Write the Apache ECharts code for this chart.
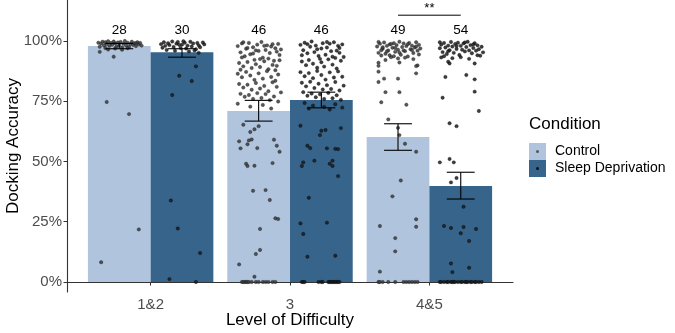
<!DOCTYPE html>
<html>
<head>
<meta charset="utf-8">
<script src="https://cdn.jsdelivr.net/npm/echarts@6/dist/echarts.min.js"></script>
<style>
  html, body { margin: 0; padding: 0; background: #fff; }
  #main { width: 675px; height: 333px; }
</style>
</head>
<body>
<div id="main"></div>
<script>
const categories = ['1&2', '3', '4&5'];
const yTicks = [0, 25, 50, 75, 100];

const ctrlMean = [97.8, 70.9, 60.1];
const ctrlLow = [96.7, 66.7, 54.6];
const ctrlHigh = [98.9, 75.3, 65.6];
const sdMean = [95.2, 75.4, 39.8];
const sdLow = [93.2, 72.2, 34.4];
const sdHigh = [96.7, 78.7, 45.5];
const ctrlN = [28, 46, 49];
const sdN = [30, 46, 54];

// individual accuracies: [jitter offset (category units), accuracy %]
const ctrl12 = [
  [-0.15,99.2],[-0.13,98.8],[-0.12,99.6],[-0.11,98.1],[-0.10,99.4],[-0.09,98.6],[-0.08,99.8],[-0.07,97.9],
  [-0.06,99.1],[-0.05,98.4],[-0.04,99.7],[-0.03,98.9],[-0.02,97.6],[-0.01,99.3],[0.00,98.2],[0.01,99.5],
  [0.02,97.2],[0.03,98.7],[0.04,99.9],[0.05,98.0],[0.06,99.2],[0.07,97.4],[0.08,98.6],[0.09,99.6],
  [0.10,98.3],[0.11,99.0],[0.12,97.8],[0.13,99.4],[0.14,98.5],[0.15,99.1],[-0.14,97.5],[-0.08,96.4],
  [-0.03,96.8],[0.02,96.3],[0.06,96.9],[-0.10,97.0],[0.12,98.9],[0.16,98.0],
  [-0.14,95.4],[-0.04,93.4],[-0.09,74.6],[0.07,69.6],[0.14,21.8],[-0.13,8.2]
];
const sd12 = [
  [-0.15,98.6],[-0.13,99.4],[-0.12,97.9],[-0.10,99.0],[-0.09,98.2],[-0.07,99.7],[-0.06,97.4],[-0.04,98.8],
  [-0.03,99.5],[-0.01,97.0],[0.00,98.4],[0.02,99.2],[0.03,96.8],[0.04,98.0],[0.06,99.6],[0.07,97.6],
  [0.08,98.9],[0.10,96.5],[0.11,99.1],[0.12,98.1],[0.13,97.3],[0.15,99.3],[0.16,98.5],[-0.11,96.2],
  [-0.05,95.9],[0.05,95.6],[0.09,96.0],[-0.14,97.1],[0.01,99.8],[-0.02,98.3],
  [0.12,95.0],[0.10,89.4],[-0.02,85.5],[0.07,83.3],[-0.07,77.5],[-0.08,33.8],[-0.03,22.2],[0.13,12.0],
  [-0.09,1.2],[0.10,0]
];
const ctrl3 = [
  [-0.15,97.8],[-0.13,95.2],[-0.12,98.9],[-0.10,93.6],[-0.09,96.7],[-0.07,99.1],[-0.06,94.4],[-0.04,97.3],
  [-0.03,92.1],[-0.01,98.4],[0.00,95.8],[0.02,99.5],[0.03,93.0],[0.05,96.2],[0.06,98.1],[0.08,94.9],
  [0.09,97.6],[0.11,91.7],[0.12,96.9],[0.14,98.7],[0.15,94.1],[0.16,96.4],
  [-0.14,90.8],[-0.11,89.4],[-0.08,91.2],[-0.05,88.7],[-0.02,90.3],[0.01,89.1],[0.04,91.5],[0.07,88.2],
  [0.10,90.0],[0.13,89.6],[0.15,91.9],
  [-0.15,86.3],[-0.12,84.9],[-0.09,87.1],[-0.06,85.6],[-0.03,83.8],[0.00,86.5],[0.03,84.3],[0.06,87.4],
  [0.09,85.0],[0.12,83.4],[0.14,86.0],
  [-0.14,82.1],[-0.11,80.6],[-0.08,81.8],[-0.05,79.7],[-0.02,82.5],[0.01,80.2],[0.04,81.3],[0.07,79.1],
  [0.10,82.8],[0.13,80.9],[0.16,78.6],
  [-0.13,78.0],[-0.10,76.8],[-0.07,77.5],[-0.04,75.9],[-0.01,78.3],[0.02,76.3],[0.05,77.9],[0.08,75.4],
  [0.11,76.9],[0.14,74.8],
  [-0.15,73.9],[-0.06,72.7],[0.03,73.4],[0.09,71.9],[-0.12,93.1],[-0.02,96.0],[0.07,92.6],[0.13,95.5],
  [-0.08,97.0],[0.04,97.9],[-0.11,99.4],[0.10,98.6],[-0.04,94.7],[0.01,92.4],[0.12,87.8],[-0.13,88.0],
  [-0.11,65.2],[0.00,64.6],[-0.03,63.3],[-0.06,62.2],[-0.14,58.3],[-0.07,58.7],[-0.05,59.1],[-0.08,57.1],
  [-0.13,55.4],[-0.01,55.5],[0.11,59.0],[0.13,56.5],[0.15,54.0],[-0.09,49.0],[-0.08,48.1],[-0.03,48.2],
  [0.10,49.3],[-0.04,37.8],[0.05,38.1],[0.08,34.0],[0.12,26.4],[0.14,26.1],[0.01,22.0],[0.01,13.3],
  [-0.02,11.6],[-0.14,7.3],[-0.03,2.2],
  [-0.12,0],[-0.11,0],[-0.10,0],[-0.09,0],[-0.08,0],[-0.07,0],[-0.05,0],[-0.02,0],[0.00,0],[0.03,0],
  [0.05,0],[0.07,0],[0.10,0],[0.12,0]
];
const sd3 = [
  [-0.15,98.3],[-0.13,96.1],[-0.12,99.2],[-0.10,94.8],[-0.08,97.5],[-0.07,99.7],[-0.05,95.3],[-0.04,98.0],
  [-0.02,93.7],[0.00,96.8],[0.01,99.0],[0.03,94.2],[0.04,97.2],[0.06,98.8],[0.07,95.7],[0.09,99.4],
  [0.10,92.9],[0.12,97.9],[0.13,95.0],[0.15,98.5],[0.16,93.3],
  [-0.14,91.4],[-0.11,89.9],[-0.09,92.0],[-0.06,90.5],[-0.03,88.8],[0.00,91.1],[0.02,89.3],[0.05,92.3],
  [0.08,90.1],[0.11,88.5],[0.14,91.7],
  [-0.15,87.0],[-0.12,85.3],[-0.09,86.6],[-0.06,84.5],[-0.03,87.5],[0.00,85.8],[0.03,83.9],[0.06,86.9],
  [0.09,84.8],[0.12,87.3],[0.15,85.1],
  [-0.14,82.6],[-0.11,81.1],[-0.08,83.0],[-0.05,80.4],[-0.02,82.2],[0.01,79.8],[0.04,81.6],[0.07,80.0],
  [0.10,82.9],[0.13,79.4],[0.16,81.4],
  [-0.13,78.7],[-0.10,77.2],[-0.07,78.1],[-0.04,76.6],[-0.01,77.8],[0.02,75.9],[0.05,78.4],[0.08,76.2],
  [0.11,77.4],[0.14,75.5],
  [-0.12,74.2],[-0.06,73.1],[-0.09,71.9],[0.02,72.6],[0.06,71.5],[0.10,73.7],[0.15,72.3],[-0.14,94.0],
  [-0.03,96.5],[0.08,93.4],[0.13,97.0],[-0.10,98.6],[0.04,99.5],[-0.01,92.5],[0.11,95.9],
  [-0.15,64.8],[0.00,62.7],[0.03,63.0],[-0.01,60.9],[0.14,63.8],[-0.10,56.5],[-0.08,55.5],[0.04,55.4],
  [0.10,55.2],[0.12,55.1],[-0.13,49.6],[-0.14,48.1],[-0.05,50.3],[0.06,49.0],[0.08,48.1],[0.08,50.3],
  [0.12,43.9],[-0.09,34.9],[-0.15,24.3],[0.04,24.6],[-0.13,19.9],[-0.10,10.5],[0.10,10.9],
  [-0.14,0],[-0.13,0],[-0.12,0],[-0.02,0],[0.00,0],[0.01,0],[0.05,0],[0.06,0],[0.07,0],[0.08,0],
  [0.09,0],[0.10,0],[0.11,0],[0.12,0],[0.13,0]
];
const ctrl45 = [
  [-0.15,97.6],[-0.14,95.0],[-0.13,98.8],[-0.12,93.9],[-0.11,96.7],[-0.10,99.3],[-0.09,94.6],[-0.08,97.9],
  [-0.07,96.0],[-0.06,98.5],[-0.05,93.2],[-0.04,97.1],[-0.03,99.0],[-0.02,95.4],[-0.01,98.2],[0.00,96.3],
  [0.01,99.6],[0.02,94.2],[0.03,97.4],[0.04,98.9],[0.05,95.7],[0.06,97.8],[0.07,93.5],[0.08,99.1],
  [0.09,96.5],[0.10,98.0],[0.11,94.9],[0.12,97.2],[0.13,99.4],[0.14,95.9],[0.15,98.3],[0.16,96.8],
  [-0.14,99.5],[-0.11,97.3],[-0.08,95.6],[-0.05,98.7],[-0.02,97.0],[0.01,95.1],[0.04,96.0],[0.07,98.6],
  [0.10,96.2],[0.13,97.6],[-0.12,96.1],[-0.06,94.0],[0.00,92.7],[0.05,93.0],[0.11,92.4],[-0.09,92.0],
  [0.15,94.3],[-0.03,93.6],
  [-0.14,90.9],[-0.14,89.6],[0.14,89.8],[-0.14,87.2],[0.13,86.5],[0.00,84.3],[-0.10,84.3],[-0.14,82.9],
  [-0.09,78.7],[0.01,78.7],[-0.12,74.5],[0.06,73.5],[-0.07,67.4],[0.00,63.9],[0.01,60.9],[0.05,57.3],
  [0.13,54.0],[0.02,42.1],[-0.04,35.5],[0.13,26.0],[-0.13,23.2],[0.13,22.9],[-0.02,18.2],[-0.02,12.7],
  [-0.13,4.3],[0.01,91.0],[0.13,89.5],
  [-0.14,0],[-0.13,0],[-0.11,0],[-0.07,0],[-0.02,0],[0.04,0],[0.06,0],[0.08,0],[0.10,0],[0.12,0],[0.14,0]
];
const sd45 = [
  [-0.15,96.9],[-0.14,98.4],[-0.13,95.3],[-0.12,99.1],[-0.11,97.2],[-0.10,94.5],[-0.09,98.0],[-0.08,96.1],
  [-0.07,99.5],[-0.06,97.6],[-0.05,95.0],[-0.04,98.7],[-0.03,96.6],[-0.02,99.2],[-0.01,94.1],[0.00,97.9],
  [0.01,96.3],[0.02,98.9],[0.03,95.6],[0.04,97.4],[0.05,99.6],[0.06,96.0],[0.07,98.2],[0.08,94.8],
  [0.09,97.0],[0.10,99.0],[0.11,95.9],[0.12,98.1],[0.13,96.5],[0.14,93.8],[0.15,97.5],[0.16,95.2],
  [-0.12,93.6],[-0.06,92.8],[0.00,93.2],[0.06,92.5],[0.12,94.0],[-0.09,95.7],[0.03,99.3],[-0.03,97.8],
  [0.09,98.5],[-0.15,99.4],
  [-0.14,93.1],[-0.09,91.3],[-0.08,90.6],[0.10,90.6],[-0.11,85.0],[0.04,85.8],[0.10,84.0],[0.10,78.9],
  [-0.13,76.4],[0.13,70.9],[-0.08,65.8],[-0.03,64.6],[-0.15,49.6],[-0.08,51.0],[-0.05,49.6],[-0.07,41.3],
  [-0.03,43.1],[0.02,31.2],[-0.12,23.2],[-0.07,22.4],[0.02,22.8],[0.11,22.0],[0.00,20.2],[0.06,17.0],
  [-0.07,7.7],[-0.06,4.1],[0.06,5.9],
  [-0.15,0],[-0.14,0],[-0.12,0],[-0.10,0],[-0.09,0],[-0.07,0],[-0.06,0],[-0.05,0],[-0.04,0],[-0.02,0],
  [0.00,0],[0.01,0],[0.03,0],[0.04,0],[0.05,0],[0.07,0],[0.08,0],[0.10,0],[0.11,0],[0.13,0],[0.15,0]
];

const ctrlColor = '#B0C4DE';
const sdColor = '#36648B';
const font = 'Liberation Sans, Arial, sans-serif';
const dodge = 0.225;
const barW = 0.45;

const chartDom = document.getElementById('main');
const myChart = echarts.init(chartDom, null, { renderer: 'canvas' });

function pointsFor(groups, side) {
  const out = [];
  groups.forEach((g, i) => {
    g.forEach(p => out.push([i + 1 + side * dodge + p[0], p[1]]));
  });
  return out;
}

const barData = [];
const errData = [];
categories.forEach((c, i) => {
  barData.push([i + 1, ctrlMean[i], -1]);
  barData.push([i + 1, sdMean[i], 1]);
  errData.push([i + 1 - dodge, ctrlLow[i], ctrlHigh[i]]);
  errData.push([i + 1 + dodge, sdLow[i], sdHigh[i]]);
});
const countData = [];
categories.forEach((c, i) => {
  countData.push([i + 1 - dodge, 104.5, ctrlN[i]]);
  countData.push([i + 1 + dodge, 104.5, sdN[i]]);
});

const option = {
  backgroundColor: '#fff',
  animation: false,
  grid: { left: 67, right: 162, top: 0, bottom: 41, outerBoundsMode: 'none', containLabel: false },
  xAxis: {
    type: 'value',
    min: 0.4,
    max: 3.6,
    name: 'Level of Difficulty',
    nameLocation: 'middle',
    nameGap: 20,
    nameMoveOverlap: false,
    nameTextStyle: { fontFamily: font, fontSize: 17, color: '#000' },
    splitLine: { show: false },
    axisLine: { lineStyle: { color: '#333', width: 1.1 } },
    axisTick: { length: 3.5, lineStyle: { color: '#333' }, customValues: [1, 2, 3] },
    axisLabel: {
      customValues: [1, 2, 3],
      formatter: v => categories[Math.round(v) - 1],
      fontFamily: font, fontSize: 15, color: '#4D4D4D', margin: 5
    }
  },
  yAxis: {
    type: 'value',
    min: -4.14,
    max: 116.9,
    name: 'Docking Accuracy',
    nameLocation: 'middle',
    nameGap: 45,
    nameMoveOverlap: false,
    nameTextStyle: { fontFamily: font, fontSize: 17, color: '#000' },
    splitLine: { show: false },
    axisLine: { show: true, lineStyle: { color: '#333', width: 1.1 } },
    axisTick: { show: true, length: 3.5, lineStyle: { color: '#333' }, customValues: yTicks },
    axisLabel: {
      customValues: yTicks,
      formatter: v => v + '%',
      fontFamily: font, fontSize: 15, color: '#4D4D4D', margin: 5
    }
  },
  series: [
    {
      type: 'custom',
      data: barData,
      z: 1,
      renderItem: (params, api) => {
        const x = api.value(0), v = api.value(1), side = api.value(2);
        const xa = side < 0 ? x - barW : x;
        const p0 = api.coord([xa, v]);
        const p1 = api.coord([xa + barW, 0]);
        return {
          type: 'rect',
          shape: { x: p0[0], y: p0[1], width: p1[0] - p0[0], height: p1[1] - p0[1] },
          style: { fill: side < 0 ? ctrlColor : sdColor }
        };
      }
    },
    {
      type: 'scatter',
      data: pointsFor([ctrl12, ctrl3, ctrl45], -1),
      symbolSize: 3.4,
      z: 2,
      itemStyle: { color: '#3c3c3c', borderColor: '#111', borderWidth: 0.4, opacity: 0.85 }
    },
    {
      type: 'scatter',
      data: pointsFor([sd12, sd3, sd45], 1),
      symbolSize: 3.4,
      z: 2,
      itemStyle: { color: '#1c1c1c', borderColor: '#000', borderWidth: 0.4, opacity: 0.85 }
    },
    {
      type: 'custom',
      data: errData,
      z: 3,
      renderItem: (params, api) => {
        const x = api.value(0);
        const lo = api.coord([x, api.value(1)]);
        const hi = api.coord([x, api.value(2)]);
        const l = api.coord([x - 0.1, 0])[0];
        const r = api.coord([x + 0.1, 0])[0];
        const st = { stroke: '#000', lineWidth: 1.1 };
        return {
          type: 'group',
          children: [
            { type: 'line', shape: { x1: lo[0], y1: lo[1], x2: hi[0], y2: hi[1] }, style: st },
            { type: 'line', shape: { x1: l, y1: lo[1], x2: r, y2: lo[1] }, style: st },
            { type: 'line', shape: { x1: l, y1: hi[1], x2: r, y2: hi[1] }, style: st }
          ]
        };
      }
    },
    {
      type: 'custom',
      data: countData,
      z: 4,
      renderItem: (params, api) => {
        const p = api.coord([api.value(0), api.value(1)]);
        return {
          type: 'text',
          style: {
            x: p[0], y: p[1], text: String(api.value(2)),
            align: 'center', verticalAlign: 'middle',
            font: '13.5px ' + font, fill: '#000'
          }
        };
      }
    },
    {
      type: 'custom',
      data: [[3 - dodge, 3 + dodge, 110.6, 113.3]],
      z: 4,
      renderItem: (params, api) => {
        const a = api.coord([api.value(0), api.value(2)]);
        const b = api.coord([api.value(1), api.value(2)]);
        const t = api.coord([(api.value(0) + api.value(1)) / 2, api.value(3)]);
        return {
          type: 'group',
          children: [
            { type: 'line', shape: { x1: a[0], y1: a[1], x2: b[0], y2: b[1] }, style: { stroke: '#000', lineWidth: 1 } },
            { type: 'text', style: { x: t[0], y: t[1], text: '**', align: 'center', verticalAlign: 'middle', font: '13px ' + font, fill: '#000' } }
          ]
        };
      }
    }
  ],
  graphic: [
    { type: 'text', left: 529, top: 116, style: { text: 'Condition', font: '17px ' + font, fill: '#000' } },
    { type: 'rect', shape: { x: 529, y: 143, width: 17, height: 17 }, style: { fill: ctrlColor } },
    { type: 'circle', shape: { cx: 537.5, cy: 151.5, r: 1.5 }, style: { fill: '#555' } },
    { type: 'rect', shape: { x: 529, y: 160, width: 17, height: 17 }, style: { fill: sdColor } },
    { type: 'circle', shape: { cx: 537.5, cy: 168.5, r: 1.5 }, style: { fill: '#111' } },
    { type: 'text', left: 555, top: 144, style: { text: 'Control', font: '14px ' + font, fill: '#000' } },
    { type: 'text', left: 555, top: 161, style: { text: 'Sleep Deprivation', font: '14px ' + font, fill: '#000' } }
  ]
};

option && myChart.setOption(option);
</script>
</body>
</html>
